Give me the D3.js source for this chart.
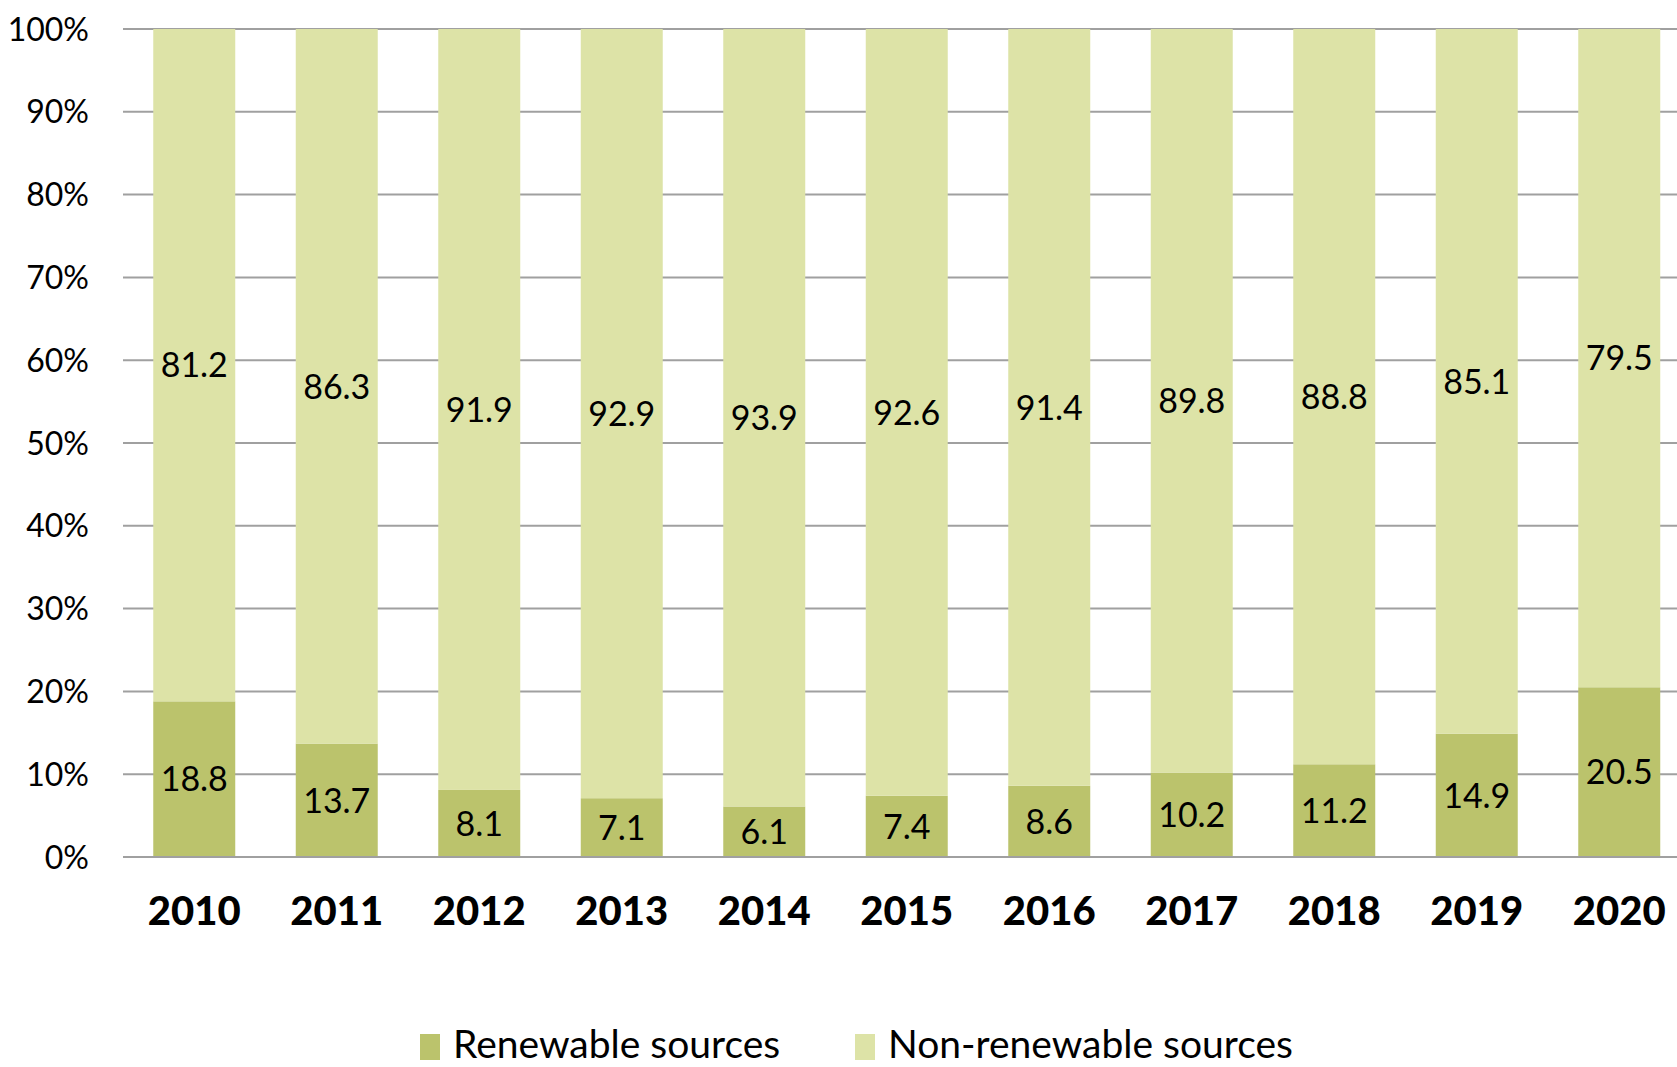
<!DOCTYPE html>
<html>
<head>
<meta charset="utf-8">
<script src="https://cdn.jsdelivr.net/npm/d3@7"></script>
<style>
  body { margin: 0; background: #fff; overflow: hidden; }
  svg { display: block; font-family: "Gill Sans", Lato, "Noto Sans", sans-serif; }
</style>
</head>
<body>
<div id="container"></div>
<script>
const years = ["2010", "2011", "2012", "2013", "2014", "2015", "2016", "2017", "2018", "2019", "2020"];
const renewable = [18.8, 13.7, 8.1, 7.1, 6.1, 7.4, 8.6, 10.2, 11.2, 14.9, 20.5];
const nonRenewable = [81.2, 86.3, 91.9, 92.9, 93.9, 92.6, 91.4, 89.8, 88.8, 85.1, 79.5];
const yTicks = [0, 10, 20, 30, 40, 50, 60, 70, 80, 90, 100];
const seriesNames = ["Renewable sources", "Non-renewable sources"];

const width = 1677;
const height = 1067;
const marginLeft = 123;
const plotRight = 1690.5;
const marginTop = 29;
const plotBottom = 857;

const colors = ["#bbc36c", "#dde3a7"];

const data = years.map((y, i) => ({ year: y, r: renewable[i], n: nonRenewable[i] }));
const series = d3.stack().keys(["r", "n"])(data);

const x = d3.scaleBand()
    .domain(years)
    .range([marginLeft, plotRight])
    .paddingInner(0.4246)
    .paddingOuter(0.2123);

const y = d3.scaleLinear()
    .domain([0, 100])
    .range([plotBottom, marginTop]);

const svg = d3.create("svg")
    .attr("width", width)
    .attr("height", height);

// gridlines
svg.append("g")
    .selectAll("line")
    .data(yTicks)
    .join("line")
    .attr("x1", marginLeft)
    .attr("x2", width)
    .attr("y1", d => y(d))
    .attr("y2", d => y(d))
    .attr("stroke", "#a0a0a0")
    .attr("stroke-width", 2);

// y labels
svg.append("g")
    .selectAll("text")
    .data(yTicks)
    .join("text")
    .attr("x", 89)
    .attr("y", d => y(d))
    .attr("dy", "0.36em")
    .attr("text-anchor", "end")
    .attr("font-size", 32)
    .attr("fill", "#000")
    .text(d => d + "%");

// bars
const groups = svg.append("g")
    .selectAll("g")
    .data(series)
    .join("g")
    .attr("fill", (d, i) => colors[i]);

groups.selectAll("rect")
    .data(d => d)
    .join("rect")
    .attr("x", d => x(d.data.year))
    .attr("y", d => y(d[1]))
    .attr("width", x.bandwidth())
    .attr("height", d => y(d[0]) - y(d[1]));

// baseline over bars
svg.append("line")
    .attr("x1", marginLeft)
    .attr("x2", width)
    .attr("y1", y(0))
    .attr("y2", y(0))
    .attr("stroke", "#a0a0a0")
    .attr("stroke-width", 2);

// value labels
groups.selectAll("text")
    .data(d => d.map(v => ({ v, key: d.key })))
    .join("text")
    .attr("x", d => x(d.v.data.year) + x.bandwidth() / 2)
    .attr("y", d => y((d.v[0] + d.v[1]) / 2))
    .attr("dy", "0.36em")
    .attr("text-anchor", "middle")
    .attr("font-size", 34)
    .attr("fill", "#000")
    .text(d => d.v.data[d.key].toFixed(1));

// x labels
svg.append("g")
    .selectAll("text")
    .data(years)
    .join("text")
    .attr("x", d => x(d) + x.bandwidth() / 2)
    .attr("y", 925)
    .attr("text-anchor", "middle")
    .attr("font-size", 40)
    .attr("font-weight", 900)
    .attr("fill", "#000")
    .text(d => d);

// legend
const legendX = [420, 855];
const legend = svg.append("g")
    .selectAll("g")
    .data(seriesNames)
    .join("g")
    .attr("transform", (d, i) => `translate(${legendX[i]},0)`);

legend.append("rect")
    .attr("x", 0)
    .attr("y", 1034)
    .attr("width", 20)
    .attr("height", 26)
    .attr("fill", (d, i) => colors[i]);

legend.append("text")
    .attr("x", 33)
    .attr("y", 1058)
    .attr("font-size", 39)
    .attr("fill", "#000")
    .text(d => d);

document.querySelector("#container").appendChild(svg.node());
</script>
</body>
</html>
